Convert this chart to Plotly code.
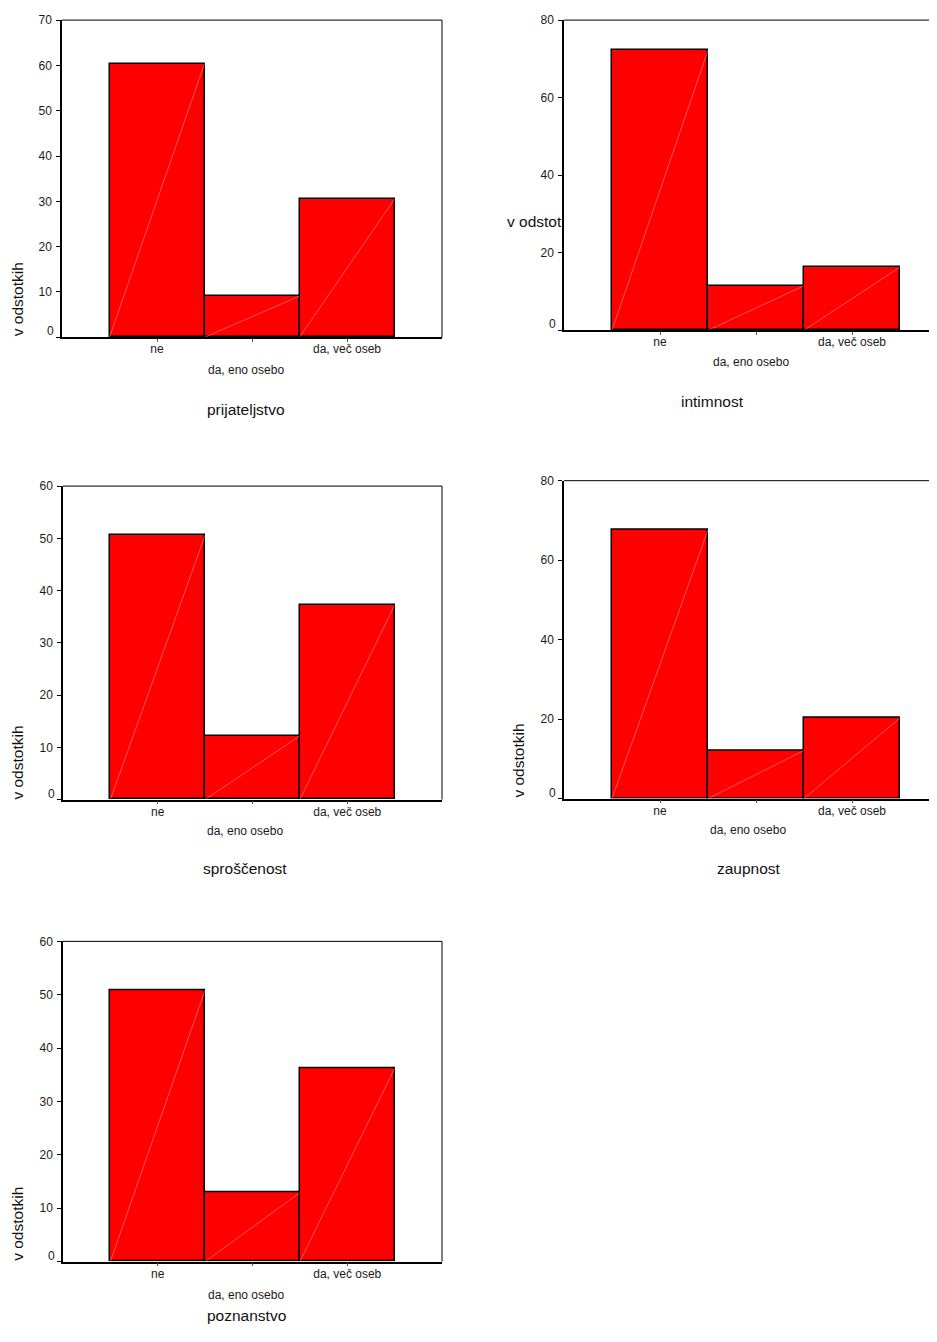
import plotly.graph_objects as go

# ---------------- data ----------------
categories = ["ne", "da, eno osebo", "da, več oseb"]
panel_titles = ["prijateljstvo", "intimnost", "sproščenost", "zaupnost", "poznanstvo"]
prijateljstvo = [60.4, 9.1, 30.5]
intimnost = [72.2, 11.5, 16.3]
sproscenost = [50.6, 12.2, 37.2]
zaupnost = [67.6, 12.1, 20.3]
poznanstvo = [50.9, 12.9, 36.2]
y_max = [70, 80, 60, 80, 60]
y_dtick = [10, 20, 10, 20, 10]
y_title = "v odstotkih"
y_title_clipped = "v odstot"

series = [prijateljstvo, intimnost, sproscenost, zaupnost, poznanstvo]

# ---------------- layout geometry (pixels of the target picture) ----------------
PAGE_W, PAGE_H = 937, 1342
OFF_X, OFF_Y, OFF_B = 8, 16, 8      # where the figure lands inside the html page
W, H = PAGE_W - 2 * OFF_X, PAGE_H - OFF_Y - OFF_B
Y_SCALE = 1350.0 / 1342.0           # page is slightly taller than the picture
VISIBLE_RIGHT = OFF_X + W           # right edge of the drawable area
CAT0_X, CAT_STEP = 660, 96          # right-column category spacing in the original
# plot boxes: x0, x1, y_top, y_bottom, x-range right end, full box (right border visible)
boxes = [
    (62, 442, 21, 338, 3.0, True),
    (564, VISIBLE_RIGHT, 21, 331, (VISIBLE_RIGHT - CAT0_X) / CAT_STEP, False),
    (63, 442, 486.7, 800, 3.0, True),
    (564, VISIBLE_RIGHT, 481.3, 799, (VISIBLE_RIGHT - CAT0_X) / CAT_STEP, False),
    (63, 442, 941.7, 1261.7, 3.0, True),
]
xtitle_pos = [(246, 410), (712, 402), (245, 869), (749, 869), (246, 1316)]
mid_label_pos = [(246, 371), (751, 362.7), (245, 831.7), (748, 830.7), (246, 1295)]
ytitle_pos = [(17, 300), None, (18, 763), (519, 761), (18, 1224)]

FONT = "Liberation Sans, Arial, sans-serif"
RED = "#ff0000"
TICK_COLOR = "#1a1a1a"


def px_x(x):
    return min(max((x - OFF_X) / W, 0.0), 1.0)


def px_y(y):
    return min(max(1 - (y * Y_SCALE - OFF_Y) / H, 0.0), 1.0)


fig = go.Figure()
layout = dict(
    width=W, height=H, autosize=False,
    margin=dict(l=0, r=0, t=0, b=0),
    paper_bgcolor="white", plot_bgcolor="white",
    showlegend=False,
    bargap=0,
    font=dict(family=FONT, size=12, color=TICK_COLOR),
)
annotations = []
shapes = []

for i, (vals, box) in enumerate(zip(series, boxes)):
    n = i + 1
    xa = "x" if n == 1 else f"x{n}"
    ya = "y" if n == 1 else f"y{n}"
    xkey = "xaxis" if n == 1 else f"xaxis{n}"
    ykey = "yaxis" if n == 1 else f"yaxis{n}"
    x0, x1, yt, yb, xr, full = box
    xs = list(range(len(categories)))

    fig.add_trace(go.Bar(
        x=xs, y=vals, width=1.0, xaxis=xa, yaxis=ya,
        marker=dict(color=RED, line=dict(color="black", width=1.5)),
        hoverinfo="skip",
    ))
    # thin diagonal highlight in each bar (bottom-left to top-right)
    dx, dy = [], []
    for k, v in zip(xs, vals):
        dx += [k - 0.5, k + 0.5, None]
        dy += [0, v, None]
    fig.add_trace(go.Scatter(
        x=dx, y=dy, mode="lines", xaxis=xa, yaxis=ya,
        line=dict(color="rgba(255,200,200,0.85)", width=0.5),
        hoverinfo="skip",
    ))

    layout[xkey] = dict(
        domain=[px_x(x0), px_x(x1)], anchor=ya,
        range=[-1, xr], fixedrange=True,
        tickvals=xs, ticktext=[categories[0], "", categories[2]],
        ticks="outside", ticklen=3, tickwidth=1, tickcolor="#555555",
        ticklabelstandoff=-3,
        tickfont=dict(family=FONT, size=12, color=TICK_COLOR),
        showline=True, linecolor="black", linewidth=1.5,
        showgrid=False, zeroline=False,
    )
    yticks = list(range(0, y_max[i] + 1, y_dtick[i]))
    layout[ykey] = dict(
        domain=[px_y(yb), px_y(yt)], anchor=xa,
        range=[0, y_max[i]], fixedrange=True,
        tickvals=yticks, ticktext=["" if t == 0 else str(t) for t in yticks],
        ticks="outside", ticklen=4, tickwidth=1, tickcolor="black",
        ticklabelstandoff=2,
        tickfont=dict(family=FONT, size=12, color=TICK_COLOR),
        showline=True, linecolor="black", linewidth=1.5,
        showgrid=False, zeroline=False,
    )
    # the "0" label sits a little above its tick in the original
    annotations.append(dict(
        text=str(yticks[0]), xref="paper", yref=ya, x=px_x(x0 - 6.5), y=yticks[0],
        xanchor="right", yanchor="middle", yshift=6, showarrow=False,
        font=dict(family=FONT, size=12, color=TICK_COLOR),
    ))

    # frame: top line (and right line when visible)
    shapes.append(dict(type="line", xref=f"{xa} domain", yref=f"{ya} domain",
                       x0=0, x1=1, y0=1, y1=1, line=dict(color="black", width=1)))
    if full:
        shapes.append(dict(type="line", xref=f"{xa} domain", yref=f"{ya} domain",
                           x0=1, x1=1, y0=0, y1=1, line=dict(color="black", width=1)))

    # second-row category label
    mx, my = mid_label_pos[i]
    annotations.append(dict(
        text=categories[1], xref="paper", yref="paper",
        x=px_x(mx), y=px_y(my), xanchor="center", yanchor="middle",
        showarrow=False, font=dict(family=FONT, size=12, color=TICK_COLOR),
    ))
    # x-axis title
    tx, ty = xtitle_pos[i]
    annotations.append(dict(
        text=panel_titles[i], xref="paper", yref="paper",
        x=px_x(tx), y=px_y(ty), xanchor="center", yanchor="middle",
        showarrow=False, font=dict(family=FONT, size=15.5, color="#111111"),
    ))
    # y-axis title
    if ytitle_pos[i] is not None:
        yx, yy = ytitle_pos[i]
        annotations.append(dict(
            text=y_title, xref="paper", yref="paper", textangle=-90,
            x=px_x(yx), y=px_y(yy), xanchor="center", yanchor="middle",
            showarrow=False, font=dict(family=FONT, size=15.5, color="#111111"),
        ))
    else:
        annotations.append(dict(
            text=y_title_clipped, xref="paper", yref="paper",
            x=px_x(x0), y=px_y(222), xanchor="right", yanchor="middle",
            showarrow=False, font=dict(family=FONT, size=15.5, color="#111111"),
        ))

layout["annotations"] = annotations
layout["shapes"] = shapes
fig.update_layout(**layout)

fig.write_html("out.html")
